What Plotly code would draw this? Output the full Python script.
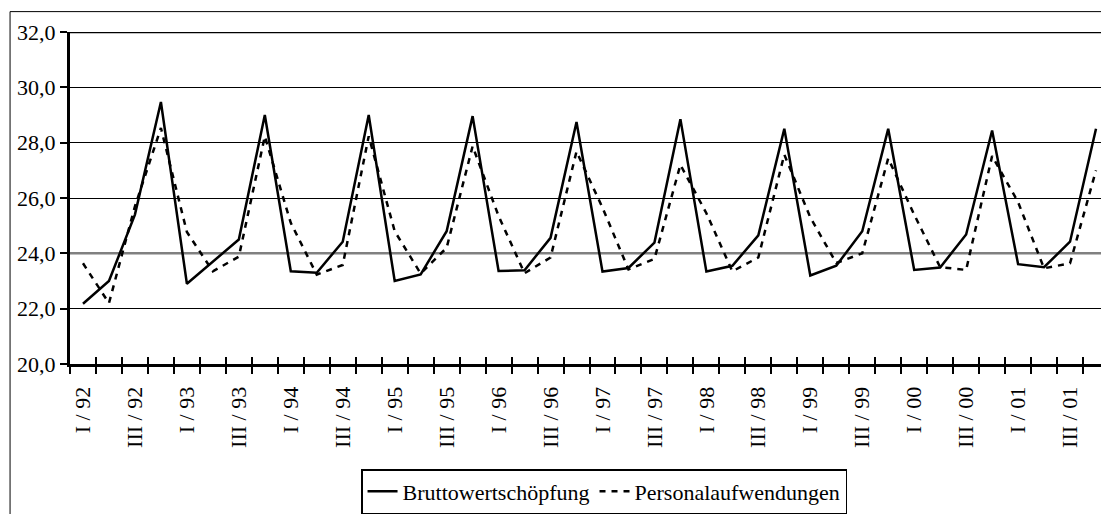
import plotly.graph_objects as go

years = ["92", "93", "94", "95", "96", "97", "98", "99", "00", "01"]
romans = ["I", "II", "III", "IV"]
quarters = [f"{r} / {y}" for y in years for r in romans]

brutto = [22.18, 23.00, 25.40, 29.47,
          22.90, 23.70, 24.50, 29.00,
          23.35, 23.30, 24.42, 29.00,
          23.00, 23.24, 24.80, 28.96,
          23.36, 23.39, 24.56, 28.75,
          23.34, 23.47, 24.39, 28.85,
          23.34, 23.55, 24.65, 28.50,
          23.20, 23.55, 24.80, 28.50,
          23.40, 23.49, 24.68, 28.44,
          23.61, 23.50, 24.42, 28.50]

personal = [23.64, 22.20, 25.70, 28.53,
            24.77, 23.35, 23.88, 28.23,
            25.10, 23.23, 23.58, 28.23,
            24.80, 23.27, 24.20, 27.87,
            25.35, 23.28, 23.85, 27.68,
            25.65, 23.42, 23.80, 27.20,
            25.45, 23.35, 23.85, 27.57,
            25.30, 23.65, 24.00, 27.43,
            25.40, 23.50, 23.40, 27.52,
            25.85, 23.46, 23.64, 27.00]

shown_labels = [q if q.split(" / ")[0] in ("I", "III") else "" for q in quarters]

FONT = "'Liberation Serif', 'Times New Roman', serif"

fig = go.Figure()
fig.add_trace(go.Scatter(x=quarters, y=brutto, mode="lines",
                         name="Bruttowertschöpfung",
                         line=dict(color="black", width=2.5)))
fig.add_trace(go.Scatter(x=quarters, y=personal, mode="lines",
                         name="Personalaufwendungen",
                         line=dict(color="black", width=2.5, dash="6px,6px")))
# helper trace carrying the upper half of the crossing tick marks
fig.add_trace(go.Scatter(x=quarters, y=[None] * len(quarters), xaxis="x2",
                         mode="lines", showlegend=False, hoverinfo="skip"))

n = len(quarters)
fig.update_layout(
    width=1101, height=506,
    margin=dict(l=62, r=0, t=24, b=148),
    paper_bgcolor="white", plot_bgcolor="white",
    separators=",.",
    font=dict(family=FONT, size=22, color="black"),
    showlegend=True,
    legend=dict(orientation="h", x=0.514, xanchor="center", y=-0.385, yanchor="middle",
                bordercolor="black", borderwidth=1.5, bgcolor="white",
                font=dict(family=FONT, size=22, color="black")),
    xaxis=dict(type="category", range=[-0.5, n - 0.5],
               tickmode="array", tickvals=quarters, ticktext=shown_labels,
               tickson="boundaries", ticks="outside", ticklen=7, tickwidth=2,
               tickcolor="black", tickangle=-90, ticklabelstandoff=11,
               showline=True, linewidth=3, linecolor="black",
               showgrid=False, zeroline=False,
               tickfont=dict(family=FONT, size=22, color="black")),
    xaxis2=dict(type="category", overlaying="x", anchor="y", side="bottom",
                range=[-0.5, n - 0.5], tickmode="array", tickvals=quarters,
                tickson="boundaries", ticks="inside", ticklen=7, tickwidth=2,
                tickcolor="black", showticklabels=False,
                showline=False, showgrid=False, zeroline=False),
    yaxis=dict(range=[20, 32], tick0=20, dtick=2, tickformat=".1f",
               ticks="outside", ticklen=7, tickwidth=1.5, tickcolor="black",
               showline=True, linewidth=3, linecolor="black",
               showgrid=True, gridcolor="black", gridwidth=1, zeroline=False,
               tickfont=dict(family=FONT, size=22, color="black")),
    shapes=[
        dict(type="line", xref="x", yref="y", x0=-0.5, x1=n - 0.5, y0=24, y1=24,
             line=dict(color="#808080", width=2.5), layer="between"),
        dict(type="line", xref="paper", yref="y", x0=0, x1=1, y0=32, y1=32,
             line=dict(color="black", width=2.5), layer="above"),
        dict(type="rect", xref="paper", yref="paper", x0=-0.0577, x1=1.1,
             y0=-0.7, y1=1.0614, line=dict(color="black", width=1), layer="below"),
    ],
)

fig.write_html("out.html")
